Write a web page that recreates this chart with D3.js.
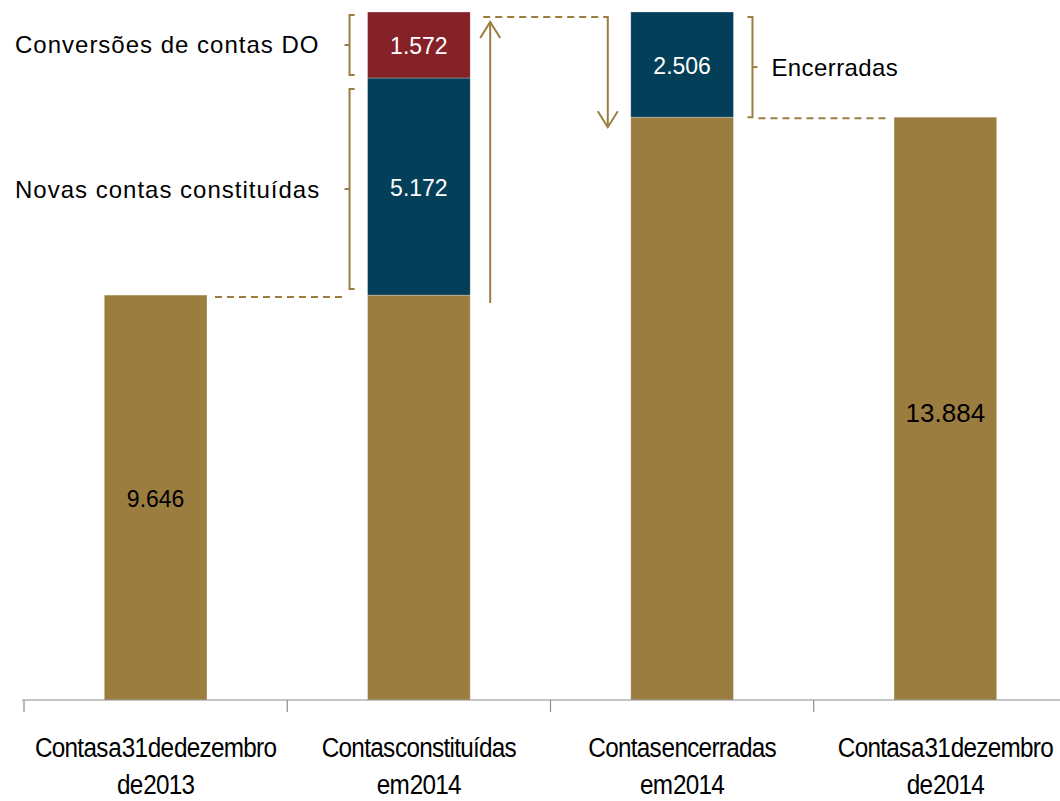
<!DOCTYPE html>
<html>
<head>
<meta charset="utf-8">
<script src="https://cdn.jsdelivr.net/npm/d3@7/dist/d3.min.js"></script>
<style>
  html, body { margin: 0; padding: 0; background: #ffffff; }
  svg { display: block; font-family: "Liberation Sans", Arial, sans-serif; }
</style>
</head>
<body>
<svg id="chart" width="1060" height="801"></svg>
<script>
// ---------- DATA ----------
const categories = ["dez2013", "constituidas", "encerradas", "dez2014"];
const categoryLabels = [
  ["Contas a 31 de dezembro", "de 2013"],
  ["Contas constituídas", "em 2014"],
  ["Contas encerradas", "em 2014"],
  ["Contas a 31 dezembro", "de 2014"]
];
const baseValues   = [9646, 9646, 13884, 13884];
const newAccounts  = [0, 5172, 0, 0];
const conversions  = [0, 1572, 0, 0];
const closedAccts  = [0, 0, 2506, 0];
const showBaseLabel = [true, false, false, true];
const annotationTexts = {
  conversions: "Conversões de contas DO",
  newAccounts: "Novas contas constituídas",
  closed: "Encerradas"
};

// ---------- STYLE ----------
const GOLD = "#9b7d40", NAVY = "#043f59", MAROON = "#852227";
const W = 1060, H = 801;

const svg = d3.select("#chart");
const fmt = d3.formatLocale({decimal: ",", thousands: ".", grouping: [3], currency: ["", ""]}).format(",d");

const x = d3.scaleBand().domain(categories).range([24, 1077]).paddingInner(0.61).paddingOuter(0.305);
const maxTop = d3.max(categories.map((c, i) => baseValues[i] + newAccounts[i] + conversions[i] + closedAccts[i]));
const y = d3.scaleLinear().domain([0, maxTop]).range([700, 12]);
const bw = x.bandwidth();
const step = x.step();

// build segments
const segments = [];
categories.forEach((c, i) => {
  let acc = 0;
  segments.push({cat: c, y0: 0, y1: baseValues[i], color: GOLD, label: showBaseLabel[i] ? baseValues[i] : null, dark: true, big: i === 3});
  acc = baseValues[i];
  if (newAccounts[i] > 0) { segments.push({cat: c, y0: acc, y1: acc + newAccounts[i], color: NAVY, label: newAccounts[i]}); acc += newAccounts[i]; }
  if (conversions[i] > 0) { segments.push({cat: c, y0: acc, y1: acc + conversions[i], color: MAROON, label: conversions[i]}); acc += conversions[i]; }
  if (closedAccts[i] > 0) { segments.push({cat: c, y0: acc, y1: acc + closedAccts[i], color: NAVY, label: closedAccts[i]}); acc += closedAccts[i]; }
});

svg.append("g").selectAll("rect").data(segments).join("rect")
  .attr("x", d => x(d.cat))
  .attr("width", bw)
  .attr("y", d => y(d.y1))
  .attr("height", d => y(d.y0) - y(d.y1))
  .attr("fill", d => d.color)
  .attr("stroke", "#ffffff").attr("stroke-opacity", 0.35).attr("stroke-width", 0.8);

svg.append("g").selectAll("text").data(segments.filter(d => d.label !== null)).join("text")
  .attr("x", d => x(d.cat) + bw / 2)
  .attr("y", d => (y(d.y0) + y(d.y1)) / 2 + (d.big ? 4 : 1))
  .attr("text-anchor", "middle")
  .attr("dominant-baseline", "central")
  .attr("font-size", d => d.big ? 26 : 23)
  .attr("fill", d => d.dark ? "#000000" : "#ffffff")
  .text(d => fmt(d.label));

// ---------- AXIS ----------
const axisY = y(0);
const ax = svg.append("g").attr("stroke", "#8c8c8c").attr("stroke-width", 1.2);
ax.append("line").attr("x1", 22).attr("x2", W).attr("y1", axisY).attr("y2", axisY);
categories.forEach(c => {
  const tx = x(c) + bw / 2 - step / 2;
  ax.append("line").attr("x1", tx).attr("x2", tx).attr("y1", axisY).attr("y2", axisY + 12);
});

const lab = svg.append("g").attr("font-size", 27).attr("letter-spacing", "-0.8px").attr("word-spacing", "-6px").attr("fill", "#000");
categories.forEach((c, i) => {
  categoryLabels[i].forEach((line, j) => {
    lab.append("g")
      .attr("transform", `translate(${x(c) + bw / 2},${748 + j * 37}) scale(0.9,1)`)
      .append("text")
      .attr("text-anchor", "middle")
      .attr("dominant-baseline", "central")
      .text(line);
  });
});

// ---------- ANNOTATIONS ----------
const ann = svg.append("g").attr("stroke", GOLD).attr("fill", "none").attr("stroke-width", 2);
const c1 = categories[0], c2 = categories[1], c3 = categories[2], c4 = categories[3];
const topTotal = baseValues[1] + newAccounts[1] + conversions[1];

// dashed connectors
ann.append("line").attr("stroke-dasharray", "7,5")
  .attr("x1", x(c1) + bw + 8).attr("x2", x(c2) - 25)
  .attr("y1", y(baseValues[0]) + 2).attr("y2", y(baseValues[0]) + 2);
ann.append("line").attr("stroke-dasharray", "7,5")
  .attr("x1", x(c2) + bw + 13).attr("x2", x(c3) - 22)
  .attr("y1", y(topTotal) + 5).attr("y2", y(topTotal) + 5);
ann.append("line").attr("stroke-dasharray", "7,5")
  .attr("x1", x(c3) + bw + 25).attr("x2", x(c4) - 8)
  .attr("y1", y(baseValues[2]) + 1).attr("y2", y(baseValues[2]) + 1);

// brackets
function leftBracket(xb, ya, yb) {
  ann.append("path").attr("d", `M${xb + 5},${ya} L${xb},${ya} L${xb},${yb} L${xb + 5},${yb}`);
  const ym = (ya + yb) / 2;
  ann.append("line").attr("x1", xb).attr("x2", xb - 5).attr("y1", ym).attr("y2", ym);
  return ym;
}
function rightBracket(xb, ya, yb) {
  ann.append("path").attr("d", `M${xb - 5},${ya} L${xb},${ya} L${xb},${yb} L${xb - 5},${yb}`);
  const ym = (ya + yb) / 2;
  ann.append("line").attr("x1", xb).attr("x2", xb + 5).attr("y1", ym).attr("y2", ym);
  return ym;
}
const bx = x(c2) - 18;
const ymConv = leftBracket(bx, y(topTotal) + 3, y(baseValues[1] + newAccounts[1]) - 3);
const ymNew = leftBracket(bx, y(baseValues[1] + newAccounts[1]) + 11, y(baseValues[1]) - 6);
const ymClosed = rightBracket(x(c3) + bw + 19, y(topTotal) + 5, y(baseValues[2]));

// arrows
const upX = x(c2) + bw + 20;
const upTop = y(topTotal) + 10, upBot = y(baseValues[1]) + 8;
ann.append("line").attr("x1", upX).attr("x2", upX).attr("y1", upBot).attr("y2", upTop);
ann.append("path").attr("d", `M${upX - 10},${upTop + 16} L${upX},${upTop} L${upX + 10},${upTop + 16}`);
const dnX = x(c3) - 23;
const dnTop = y(topTotal) + 5, dnBot = y(baseValues[2]) + 10;
ann.append("line").attr("x1", dnX).attr("x2", dnX).attr("y1", dnTop).attr("y2", dnBot);
ann.append("path").attr("d", `M${dnX - 10},${dnBot - 16} L${dnX},${dnBot} L${dnX + 10},${dnBot - 16}`);

// annotation texts
const at = svg.append("g").attr("font-size", 24).attr("fill", "#000").attr("letter-spacing", "1px");
at.append("text").attr("x", 15).attr("y", ymConv).attr("dominant-baseline", "central").text(annotationTexts.conversions);
at.append("text").attr("x", 15).attr("y", ymNew).attr("dominant-baseline", "central").text(annotationTexts.newAccounts);
at.append("text").attr("x", x(c3) + bw + 38).attr("y", ymClosed).attr("dominant-baseline", "central").attr("letter-spacing", "0.4px").text(annotationTexts.closed);
</script>
</body>
</html>
